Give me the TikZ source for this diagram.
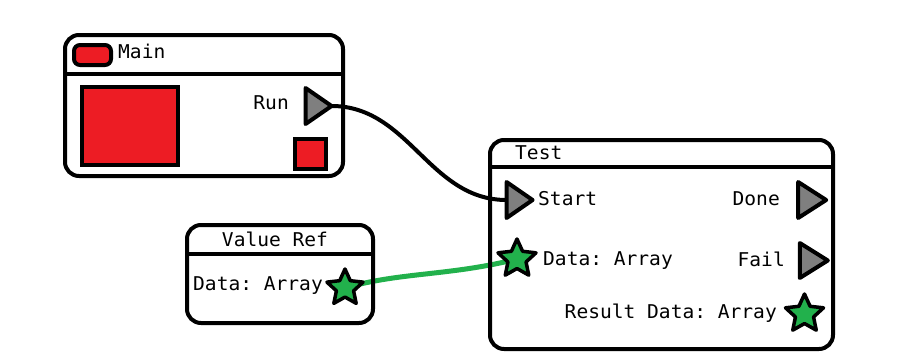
\documentclass[tikz,border=0pt]{standalone}
\usepackage{fontspec}
\setmonofont[FakeStretch=1.03]{DejaVu Sans Mono}
\usetikzlibrary{shapes.geometric,backgrounds}
\definecolor{pred}{HTML}{ED1C24}
\definecolor{pgreen}{HTML}{22B14C}
\definecolor{pgray}{HTML}{7F7F7F}
\tikzset{
  panel/.style={draw, line width=4pt, rounded corners=14pt, inner sep=0pt},
  header/.style={line width=4pt},
  redbox/.style={draw, fill=pred, line width=4pt, inner sep=0pt},
  flowport/.style={isosceles triangle, isosceles triangle stretches, draw, fill=pgray,
    line width=4pt, line join=round, inner sep=0pt, outer sep=0pt},
  dataport/.style={star, star points=5, star point ratio=2.1, draw, fill=pgreen,
    line width=3.5pt, line join=round, inner sep=0pt, outer sep=0pt, minimum size=40pt},
  label/.style={font=\ttfamily\fontsize{19}{19}\selectfont, inner sep=0pt},
  flowwire/.style={line width=4pt, line cap=round},
  datawire/.style={pgreen, line width=5pt, line cap=round},
}
\begin{document}
\begin{tikzpicture}[x=1pt,y=-1pt]
\useasboundingbox (0,0) rectangle (905,364);

% Main
\node[panel, minimum width=278pt, minimum height=141pt] (main) at (204,105.5) {};
\draw[header] (main.west |- 0,74) -- (main.east |- 0,74);
\node[redbox, rounded corners=6pt, minimum width=37pt, minimum height=20pt] (mainicon) at (92.5,55) {};
\node[label, anchor=base west] (maintitle) at (118,58.5) {Main};
\node[redbox, minimum width=96pt, minimum height=78pt] (bigsq) at (130,126) {};
\node[redbox, minimum width=31pt, minimum height=30pt] (smallsq) at (310.5,154) {};
\node[label, anchor=base east] (runlbl) at (289,109.5) {Run};
\node[flowport, minimum height=26pt, minimum width=36pt] (run) at (315,106) {};

% Value Ref
\node[panel, minimum width=186pt, minimum height=98pt] (vref) at (280,274) {};
\draw[header] (vref.west |- 0,254) -- (vref.east |- 0,254);
\node[label, anchor=base] (vreftitle) at (275,246.5) {Value Ref};
\node[label, anchor=base west] (vrdatalbl) at (193,290) {Data: Array};
\node[dataport, minimum size=38pt] (vrdata) at (345,288) {};

% Test
\node[panel, minimum width=343pt, minimum height=209pt] (test) at (661.5,244.5) {};
\draw[header] (test.west |- 0,167) -- (test.east |- 0,167);
\node[label, anchor=base west] (testtitle) at (515,159) {Test};
\node[flowport, minimum height=26pt, minimum width=36pt] (start) at (516,200) {};
\node[label, anchor=base west] (startlbl) at (538,205) {Start};
\node[flowport, minimum height=28pt, minimum width=36pt] (done) at (808,200) {};
\node[label, anchor=base east] (donelbl) at (780,205) {Done};
\node[dataport] (tdata) at (517,259) {};
\node[label, anchor=base west] (tdatalbl) at (543,265) {Data: Array};
\node[flowport, minimum height=28pt, minimum width=35pt] (fail) at (809.5,260.5) {};
\node[label, anchor=base east] (faillbl) at (785,266) {Fail};
\node[dataport] (result) at (804.5,314) {};
\node[label, anchor=base east] (resultlbl) at (777,318) {Result Data: Array};

% wires, kept under the ports
\begin{scope}[on background layer]
  \draw[flowwire] (run.apex) to[out=0, in=180] (start.lower side);
  \draw[datawire] (vrdata.center) .. controls (400,272) and (450,276) .. (tdata.center);
\end{scope}
\end{tikzpicture}
\end{document}
